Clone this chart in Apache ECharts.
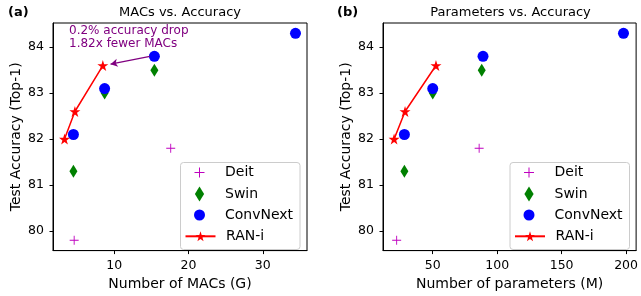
<!DOCTYPE html>
<html><head><meta charset="utf-8">
<script src="https://cdn.jsdelivr.net/npm/echarts@6/dist/echarts.min.js"></script>
<style>html,body{margin:0;padding:0;background:#fff}#c{width:641px;height:296px}</style>
</head><body><div id="c"></div>
<script>
// ---- data ----
const seriesNames = ['Deit', 'Swin', 'ConvNext', 'RAN-i'];
const deitMacs = [4.6, 17.6];
const deitParams = [22, 86];
const deitAcc = [79.8, 81.8];
const swinMacs = [4.5, 8.7, 15.4];
const swinParams = [28, 50, 88];
const swinAcc = [81.3, 83.0, 83.5];
const convMacs = [4.5, 8.7, 15.4, 34.4];
const convParams = [28, 50, 89, 198];
const convAcc = [82.1, 83.1, 83.8, 84.3];
const ranMacs = [3.3, 4.7, 8.46];
const ranParams = [20, 28.5, 52.5];
const ranAcc = [82.0, 82.6, 83.6];
const accTicks = [80, 81, 82, 83, 84];
const macTicks = [10, 20, 30];
const paramTicks = [50, 100, 150, 200];
const arrowFrom = [14.8, 83.8];
const arrowTo = [9.5, 83.63];
const annotationText = '0.2% accuracy drop\n1.82x fewer MACs';
const titles = ['MACs vs. Accuracy', 'Parameters vs. Accuracy'];
const panelTags = ['(a)', '(b)'];
const xNames = ['Number of MACs (G)', 'Number of parameters (M)'];
const yName = 'Test Accuracy (Top-1)';

// ---- styling ----
const F = '"DejaVu Sans", sans-serif';
const colors = {Deit: '#bf00bf', Swin: '#008000', ConvNext: '#0000ff', 'RAN-i': '#ff0000'};
function starPath() {
  const pts = [];
  for (let i = 0; i < 10; i++) {
    const r = i % 2 === 0 ? 50 : 19.1;
    const a = -Math.PI / 2 + i * Math.PI / 5;
    pts.push((50 + r * Math.cos(a)).toFixed(2) + ',' + (50 + r * Math.sin(a)).toFixed(2));
  }
  return 'path://M' + pts.join('L') + 'Z';
}
const STAR = starPath();
const PLUS = 'path://M9,0H11V9H20V11H11V20H9V11H0V9H9Z';
const DIAMOND = 'path://M4,0L8,6.5L4,13L0,6.5Z';

const grids = [
  {left: 53, right: 334, top: 23, bottom: 40},
  {left: 383, right: 3, top: 23, bottom: 40}
];
const xExt = [[1.75, 35.95], [11.4, 207.8]];
const yExt = [79.575, 84.525];

function xAxis(gi, ticks) {
  return {
    type: 'value', gridIndex: gi, min: xExt[gi][0], max: xExt[gi][1],
    name: xNames[gi], nameLocation: 'middle', nameGap: 25,
    nameTextStyle: {fontSize: 14, color: '#000', fontFamily: F},
    axisLine: {show: true, onZero: false, lineStyle: {color: '#000', width: 1}},
    axisTick: {show: true, inside: false, length: 3.5, lineStyle: {color: '#000'}, customValues: ticks},
    axisLabel: {fontSize: 12.5, color: '#000', fontFamily: F, margin: 8.5, customValues: ticks},
    splitLine: {show: false}
  };
}
function yAxis(gi) {
  return {
    type: 'value', gridIndex: gi, min: yExt[0], max: yExt[1],
    name: yName, nameLocation: 'middle', nameGap: 30,
    nameTextStyle: {fontSize: 14, color: '#000', fontFamily: F},
    axisLine: {show: true, onZero: false, lineStyle: {color: '#000', width: 1}},
    axisTick: {show: true, inside: false, length: 3.5, lineStyle: {color: '#000'}, customValues: accTicks},
    axisLabel: {fontSize: 12.5, color: '#000', fontFamily: F, margin: 9, customValues: accTicks},
    splitLine: {show: false}
  };
}
function pts(xs, ys) { return xs.map((x, i) => [x, ys[i]]); }

function panelSeries(gi, dx, sx, cx, rx) {
  const s = [
    {name: 'Deit', type: 'scatter', xAxisIndex: gi, yAxisIndex: gi, data: pts(dx, deitAcc),
     symbol: PLUS, symbolSize: 9, itemStyle: {color: colors.Deit, opacity: 1}},
    {name: 'Swin', type: 'scatter', xAxisIndex: gi, yAxisIndex: gi, data: pts(sx, swinAcc),
     symbol: DIAMOND, symbolSize: [8, 13], itemStyle: {color: colors.Swin, opacity: 1}},
    {name: 'ConvNext', type: 'scatter', xAxisIndex: gi, yAxisIndex: gi, data: pts(cx, convAcc),
     symbol: 'circle', symbolSize: 11, itemStyle: {color: colors.ConvNext, opacity: 1}},
    {name: 'RAN-i', type: 'line', xAxisIndex: gi, yAxisIndex: gi, data: pts(rx, ranAcc),
     symbol: STAR, symbolSize: 11, showAllSymbol: true,
     lineStyle: {color: colors['RAN-i'], width: 1.5}, itemStyle: {color: colors['RAN-i']}}
  ];
  s.forEach(o => { o.animation = false; o.emphasis = {disabled: true}; });
  return s;
}

const series = panelSeries(0, deitMacs, swinMacs, convMacs, ranMacs)
  .concat(panelSeries(1, deitParams, swinParams, convParams, ranParams));
// annotation arrow on the MACs panel
series[3].markLine = {
  silent: true, animation: false, symbol: ['none', 'arrow'], symbolSize: [6, 7],
  label: {show: false},
  lineStyle: {color: '#800080', width: 1.3, type: 'solid'},
  data: [[{coord: arrowFrom}, {coord: arrowTo}]]
};

// legends (one per row so each marker can have its own size)
const legendRows = [
  {name: 'Deit', h: 10, w: 10, icon: PLUS},
  {name: 'Swin', h: 15, w: 15 * 8 / 13, icon: DIAMOND},
  {name: 'ConvNext', h: 11, w: 11, icon: 'circle'},
  {name: 'RAN-i', h: 12.5, w: 30, icon: null}
];
const rowCenters = [172.5, 194, 215, 236.3];
const boxLefts = [180, 509.5];
const legends = [];
boxLefts.forEach(bl => {
  const markerCx = bl + 19.5;
  legendRows.forEach((r, i) => {
    const d = {name: r.name};
    if (r.icon) d.icon = r.icon;
    legends.push({
      left: markerCx - r.w / 2, top: rowCenters[i] - Math.max(r.h, 14) / 2,
      orient: 'vertical', padding: 0, itemGap: 0, itemWidth: 30, itemHeight: r.h,
      selectedMode: false, data: [d],
      textStyle: {fontSize: 14, lineHeight: 14, color: '#000', fontFamily: F, padding: [0, 0, 0, 5.5]}
    });
  });
});

const graphic = [];
boxLefts.forEach(bl => {
  graphic.push({type: 'rect', z: 3, shape: {x: bl + 0.5, y: 162.5, width: 119.5, height: 87, r: 3},
    style: {fill: 'rgba(255,255,255,0.8)', stroke: '#cccccc', lineWidth: 1}});
});
[180, 510.5].forEach((cx, i) => {
  graphic.push({type: 'text', x: cx, y: 6, z: 5,
    style: {text: titles[i], align: 'center', verticalAlign: 'top', font: '13px ' + F, fill: '#000'}});
});
[8, 337].forEach((x, i) => {
  graphic.push({type: 'text', x: x, y: 6, z: 5,
    style: {text: panelTags[i], align: 'left', verticalAlign: 'top', font: 'bold 13px ' + F, fill: '#000'}});
});
graphic.push({type: 'text', x: 69, y: 24, z: 5,
  style: {text: annotationText, align: 'left', verticalAlign: 'top', font: '12px ' + F, lineHeight: 13.5, fill: '#800080'}});

const grid = grids.map(g => Object.assign({show: true, borderColor: '#000', borderWidth: 1, backgroundColor: '#fff'}, g));

const chart = echarts.init(document.getElementById('c'), null, {renderer: 'canvas'});
chart.setOption({
  animation: false,
  backgroundColor: '#fff',
  textStyle: {fontFamily: F},
  grid: grid,
  xAxis: [xAxis(0, macTicks), xAxis(1, paramTicks)],
  yAxis: [yAxis(0), yAxis(1)],
  legend: legends,
  series: series,
  graphic: graphic
});
</script>
</body></html>
